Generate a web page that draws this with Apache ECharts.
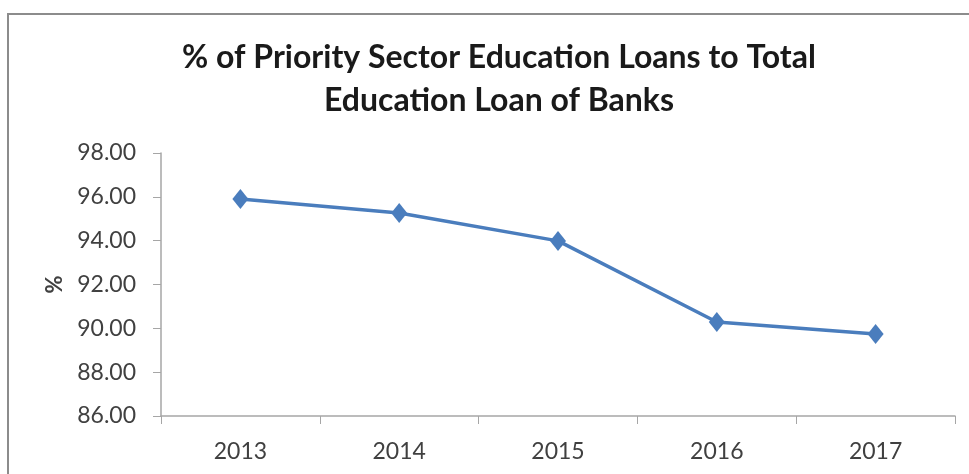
<!DOCTYPE html>
<html>
<head>
<meta charset="utf-8">
<script src="https://cdn.jsdelivr.net/npm/echarts@6/dist/echarts.min.js"></script>
<style>
  html, body { margin: 0; padding: 0; background: #fff; }
  #chart { width: 969px; height: 474px; }
</style>
</head>
<body>
<div id="chart"></div>
<script>
const titleText = "% of Priority Sector Education Loans to Total\nEducation Loan of Banks";
const yAxisName = "%";
const categories = ["2013", "2014", "2015", "2016", "2017"];
const values = [95.90, 95.26, 93.99, 90.29, 89.74];
const yMin = 86, yMax = 98, yStep = 2;

const chart = echarts.init(document.getElementById('chart'));
chart.setOption({
  backgroundColor: '#ffffff',
  animation: false,
  graphic: [{
    type: 'rect',
    shape: { x: 8, y: 14, width: 1000, height: 500 },
    style: { fill: 'none', stroke: '#8c8c8c', lineWidth: 2 },
    silent: true
  }],
  title: {
    text: titleText,
    left: 494,
    top: 31,
    textAlign: 'center',
    textStyle: {
      fontFamily: 'Lato',
      fontWeight: 'bold',
      fontSize: 32,
      lineHeight: 43,
      color: '#1a1a1a'
    }
  },
  grid: { left: 161, right: 14, top: 153, bottom: 58 },
  xAxis: {
    type: 'category',
    data: categories,
    boundaryGap: true,
    axisLine: { lineStyle: { color: '#a6a6a6', width: 1.5 } },
    axisTick: { show: true, length: 8, alignWithLabel: false, lineStyle: { color: '#a6a6a6' } },
    axisLabel: { margin: 24, fontFamily: 'Lato', fontSize: 23, color: '#404040' },
    splitLine: { show: false }
  },
  yAxis: {
    type: 'value',
    min: yMin,
    max: yMax,
    interval: yStep,
    name: yAxisName,
    nameLocation: 'middle',
    nameRotate: 90,
    nameGap: 94,
    nameTextStyle: { fontFamily: 'Lato', fontWeight: 'bold', fontSize: 22, color: '#404040' },
    axisLine: { show: true, lineStyle: { color: '#a6a6a6', width: 1.5 } },
    axisTick: { show: true, length: 8, lineStyle: { color: '#a6a6a6' } },
    axisLabel: {
      margin: 25,
      fontFamily: 'Lato',
      fontSize: 23,
      color: '#404040',
      formatter: v => v.toFixed(2)
    },
    splitLine: { show: false }
  },
  series: [{
    type: 'line',
    data: values,
    symbol: 'diamond',
    symbolSize: [16, 20],
    lineStyle: { color: '#4a7dbd', width: 3.5 },
    itemStyle: { color: '#4a7dbd' }
  }]
});
</script>
</body>
</html>
